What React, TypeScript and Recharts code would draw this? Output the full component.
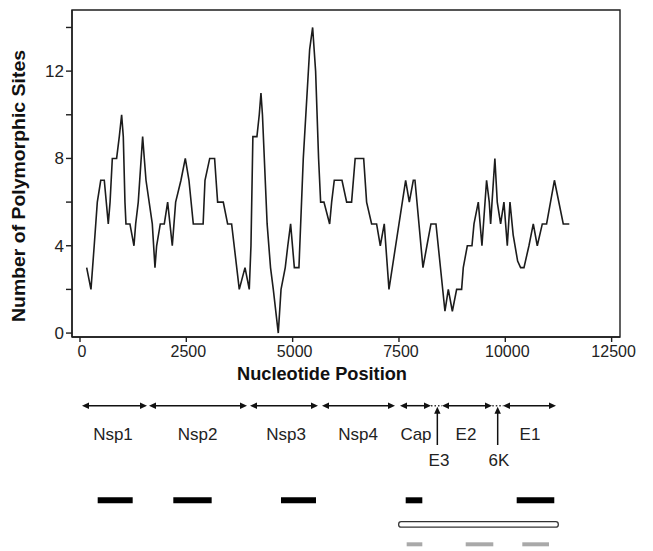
import { ComposedChart, Line, XAxis, YAxis, ReferenceArea, ReferenceLine, ReferenceDot } from 'recharts';

// sliding-window polymorphism profile
const nucleotide = [
  157, 258, 334, 407, 488, 571, 665, 707, 760, 861, 924, 979, 1018, 1057, 1081, 1174,
  1269, 1309, 1370, 1473, 1512, 1552, 1700, 1763, 1802, 1888, 1982, 2061, 2170, 2249,
  2374, 2476, 2562, 2664, 2895, 2939, 3050, 3165, 3200, 3236, 3369, 3471, 3565, 3745,
  3880, 3980, 4020, 4065, 4160, 4215, 4255, 4290, 4400, 4480, 4545, 4662, 4727, 4826,
  4886, 4952, 5040, 5148, 5250, 5400, 5470, 5540, 5610, 5658, 5736, 5870, 5917, 5979,
  6160, 6270, 6386, 6470, 6670, 6739, 6857, 6974, 7061, 7154, 7265, 7657, 7743, 7837,
  7876, 8064, 8157, 8252, 8370, 8581, 8660, 8755, 8856, 8973, 9012, 9107, 9216, 9264,
  9365, 9451, 9560, 9623, 9655, 9755, 9811, 9890, 9968, 10047, 10110, 10185, 10290,
  10360, 10439, 10556, 10658, 10752, 10870, 10971, 11155, 11363, 11505,
];
const polymorphicSites = [
  3, 2, 4, 6, 7, 7, 5, 6, 8, 8, 9, 10, 9, 6, 5, 5,
  4, 5, 6, 9, 8, 7, 5, 3, 4, 5, 5, 6, 4, 6,
  7, 8, 7, 5, 5, 7, 8, 8, 7, 6, 6, 5, 5, 2,
  3, 2, 4, 9, 9, 10, 11, 10, 5, 3, 2, 0, 2, 3,
  4, 5, 3, 3, 8, 13, 14, 12, 8, 6, 6, 5, 6, 7,
  7, 6, 6, 8, 8, 6, 5, 5, 4, 5, 2, 7, 6, 7,
  7, 3, 4, 5, 5, 1, 2, 1, 2, 2, 3, 4, 4, 5,
  6, 4, 7, 6, 5, 8, 6, 5, 6, 4, 6, 4.5, 3.3,
  3, 3, 4, 5, 4, 5, 5, 7, 5, 5,
];
const xTicks = [0, 2500, 5000, 7500, 10000, 12500];
const yTicks = [0, 2, 4, 6, 8, 10, 12, 14];
const yLabelled = [0, 4, 8, 12];

// genome map
const geneNames = ['Nsp1', 'Nsp2', 'Nsp3', 'Nsp4', 'Cap', 'E2', 'E1'];
const geneStart = [47, 1622, 3997, 5690, 7524, 8512, 9946];
const geneEnd = [1575, 3927, 5596, 7407, 8253, 9687, 11192];
const geneLabelAt = [776, 2763, 4844, 6537, 7900, 9076, 10581];

const smallGeneNames = ['E3', '6K'];
const smallGeneStart = [8253, 9694];
const smallGeneEnd = [8512, 9953];
const smallGeneAt = [8402, 9821];
const smallGeneLabelAt = [8441, 9852];

const blackBarStart = [416, 2194, 4726, 7658, 10268];
const blackBarEnd = [1239, 3096, 5549, 8049, 11152];
const openBarStart = [7493];
const openBarEnd = [11246];
const grayBarStart = [7681, 9069, 10400];
const grayBarEnd = [8049, 9718, 11028];

const siteData = nucleotide.map((n, i) => ({ n, sites: polymorphicSites[i] }));

const FONT = '"Liberation Sans", Arial, Helvetica, sans-serif';
const INK = '#1e1e1e';
const X_DOMAIN: [number, number] = [-188, 12697];

// rows of the lower map (px from its top)
const ROW = {
  arrow: 17.7,
  label: 52,
  subLabel: 78,
  pointerBottom: 57,
  blackTop: 109.3,
  blackBottom: 115.3,
  openTop: 133.7,
  openBottom: 139.2,
  grayTop: 154.3,
  grayBottom: 158.3,
};

const XTitle = (props: any) => {
  const vb = props.viewBox;
  return (
    <text
      x={314}
      y={vb.y + 43}
      textAnchor="middle"
      fontFamily={FONT}
      fontSize={18}
      fontWeight="bold"
      fill="#111"
      textLength={170}
      lengthAdjust="spacingAndGlyphs"
    >
      Nucleotide Position
    </text>
  );
};

const YTitle = () => (
  <text
    x={17}
    y={178}
    transform="rotate(-90, 17, 178)"
    textAnchor="middle"
    fontFamily={FONT}
    fontSize={19}
    fontWeight="bold"
    fill="#111"
    textLength={272}
    lengthAdjust="spacingAndGlyphs"
  >
    Number of Polymorphic Sites
  </text>
);

const DoubleArrow = (p: any) => {
  const { x1, y1, x2, y2 } = p;
  const h = 7;
  const w = 3.2;
  return (
    <g>
      <line x1={x1 + 3} y1={y1} x2={x2 - 3} y2={y2} stroke="#111" strokeWidth={1.5} />
      <polygon points={`${x1},${y1} ${x1 + h},${y1 - w} ${x1 + h},${y1 + w}`} fill="#111" />
      <polygon points={`${x2},${y2} ${x2 - h},${y2 - w} ${x2 - h},${y2 + w}`} fill="#111" />
    </g>
  );
};

const UpArrow = (p: any) => {
  const { x1, y1, x2, y2 } = p;
  const top = Math.min(y1, y2);
  const bottom = Math.max(y1, y2);
  return (
    <g>
      <line x1={x1} y1={bottom} x2={x2} y2={top + 4} stroke="#111" strokeWidth={1.5} />
      <polygon points={`${x1},${top} ${x1 - 3.2},${top + 7} ${x1 + 3.2},${top + 7}`} fill="#111" />
    </g>
  );
};

const labelShape = (text: string) => (p: any) => (
  <text x={p.cx} y={p.cy} textAnchor="middle" fontFamily={FONT} fontSize={17} fill="#222">
    {text}
  </text>
);

const openBarShape = (p: any) => (
  <rect x={p.x} y={p.y} width={p.width} height={p.height} rx={2.5} fill="#fff" stroke="#333" strokeWidth={1.3} />
);

export default function App() {
  return (
    <div style={{ width: 645, fontFamily: FONT }}>
      <ComposedChart width={645} height={380} data={siteData} margin={{ top: 2, right: 33, bottom: 0, left: 0 }}>
        <XAxis
          dataKey="n"
          type="number"
          domain={X_DOMAIN}
          allowDataOverflow
          ticks={xTicks}
          interval={0}
          height={51}
          tickSize={5}
          tickMargin={4}
          stroke={INK}
          strokeWidth={1.4}
          tick={{ fill: '#222', fontSize: 16, fontFamily: FONT, dx: 2 }}
          label={XTitle}
        />
        <YAxis
          type="number"
          domain={[-0.18, 14.8]}
          allowDataOverflow
          ticks={yTicks}
          interval={0}
          width={64}
          tickSize={6}
          tickMargin={2}
          stroke={INK}
          strokeWidth={1.4}
          tick={{ fill: '#222', fontSize: 17, fontFamily: FONT }}
          tickFormatter={(v: number) => (yLabelled.includes(v) ? String(v) : '')}
          label={YTitle}
        />
        <ReferenceArea
          x1={X_DOMAIN[0]}
          x2={X_DOMAIN[1]}
          y1={-0.18}
          y2={14.8}
          fill="none"
          fillOpacity={0}
          stroke={INK}
          strokeWidth={1.4}
          ifOverflow="visible"
        />
        <Line
          dataKey="sites"
          type="linear"
          stroke="#1c1c1c"
          strokeWidth={1.6}
          dot={false}
          activeDot={false}
          isAnimationActive={false}
        />
      </ComposedChart>

      <ComposedChart width={645} height={163} data={siteData} margin={{ top: 0, right: 33, bottom: 0, left: 64 }}>
        <XAxis dataKey="n" type="number" domain={X_DOMAIN} allowDataOverflow hide />
        <YAxis type="number" domain={[0, 163]} reversed allowDataOverflow hide />

        {geneNames.map((g, i) => (
          <ReferenceLine
            key={`arrow-${g}`}
            segment={[
              { x: geneStart[i], y: ROW.arrow },
              { x: geneEnd[i], y: ROW.arrow },
            ]}
            shape={DoubleArrow}
            ifOverflow="visible"
          />
        ))}
        {geneNames.map((g, i) => (
          <ReferenceDot key={`lab-${g}`} x={geneLabelAt[i]} y={ROW.label} r={0} shape={labelShape(g)} ifOverflow="visible" />
        ))}

        {smallGeneNames.map((g, i) => (
          <ReferenceLine
            key={`dot-${g}`}
            segment={[
              { x: smallGeneStart[i], y: ROW.arrow },
              { x: smallGeneEnd[i], y: ROW.arrow },
            ]}
            stroke="#333"
            strokeWidth={1.5}
            strokeDasharray="1.5 2"
            ifOverflow="visible"
          />
        ))}
        {smallGeneNames.map((g, i) => (
          <ReferenceLine
            key={`up-${g}`}
            segment={[
              { x: smallGeneAt[i], y: ROW.pointerBottom },
              { x: smallGeneAt[i], y: ROW.arrow + 1 },
            ]}
            shape={UpArrow}
            ifOverflow="visible"
          />
        ))}
        {smallGeneNames.map((g, i) => (
          <ReferenceDot key={`slab-${g}`} x={smallGeneLabelAt[i]} y={ROW.subLabel} r={0} shape={labelShape(g)} ifOverflow="visible" />
        ))}

        {blackBarStart.map((s, i) => (
          <ReferenceArea
            key={`bb-${i}`}
            x1={s}
            x2={blackBarEnd[i]}
            y1={ROW.blackTop}
            y2={ROW.blackBottom}
            fill="#000"
            fillOpacity={1}
            stroke="none"
            ifOverflow="visible"
          />
        ))}
        {openBarStart.map((s, i) => (
          <ReferenceArea
            key={`ob-${i}`}
            x1={s}
            x2={openBarEnd[i]}
            y1={ROW.openTop}
            y2={ROW.openBottom}
            shape={openBarShape}
            ifOverflow="visible"
          />
        ))}
        {grayBarStart.map((s, i) => (
          <ReferenceArea
            key={`gb-${i}`}
            x1={s}
            x2={grayBarEnd[i]}
            y1={ROW.grayTop}
            y2={ROW.grayBottom}
            fill="#a9a9a9"
            fillOpacity={1}
            stroke="none"
            ifOverflow="visible"
          />
        ))}
      </ComposedChart>
    </div>
  );
}
